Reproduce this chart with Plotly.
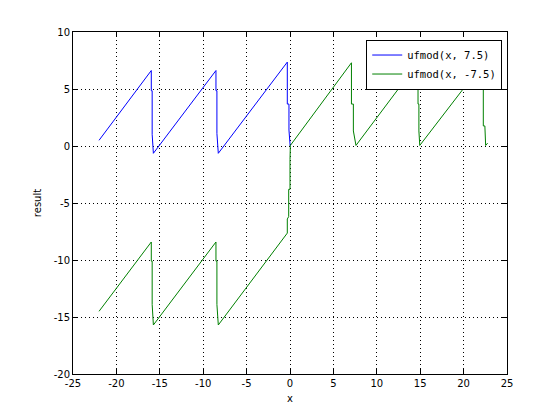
import plotly.graph_objects as go

# ufmod(x, 7.5) - vertices
blue_x = [-22.0, -15.98, -15.98, -15.88, -15.88, -15.74,
          -8.53, -8.53, -8.42, -8.42, -8.26,
          -0.31, -0.31, -0.12, -0.12, 0.02]
blue_y = [0.5, 6.62, 4.85, 4.85, 1.02, -0.64,
          6.62, 4.85, 4.85, 1.1, -0.64,
          7.36, 3.68, 3.68, 1.4, 0.0]

# ufmod(x, -7.5)
green_x = [-22.0, -15.98, -15.98, -15.88, -15.88, -15.74,
           -8.53, -8.53, -8.42, -8.42, -8.26,
           -0.31, -0.31, -0.15, -0.15, 0.0, 0.0, 0.04,
           7.08, 7.08, 7.3, 7.3, 7.6,
           14.75, 14.75, 14.85, 14.85, 14.95,
           22.27, 22.27, 22.45, 22.54, 22.77]
green_y = [-14.5, -8.42, -10.1, -10.1, -13.9, -15.7,
           -8.42, -10.1, -10.1, -13.9, -15.7,
           -7.64, -6.4, -6.2, -3.8, -3.8, -1.2, 0.05,
           7.3, 3.68, 3.68, 1.32, 0.05,
           7.3, 3.68, 3.68, 1.32, 0.05,
           7.3, 1.76, 1.76, 0.05, 0.25]

x_ticks = [-25, -20, -15, -10, -5, 0, 5, 10, 15, 20, 25]
y_ticks = [-20, -15, -10, -5, 0, 5, 10]

fig = go.Figure()
fig.add_trace(go.Scatter(x=blue_x, y=blue_y, mode="lines", name="ufmod(x, 7.5)",
                         line=dict(color="rgb(0,0,255)", width=1)))
fig.add_trace(go.Scatter(x=green_x, y=green_y, mode="lines", name="ufmod(x, -7.5)",
                         line=dict(color="rgb(0,128,0)", width=1)))

axis_common = dict(
    showline=True, linecolor="black", linewidth=1, mirror="ticks",
    ticks="inside", ticklen=5, tickcolor="black", tickwidth=1,
    showgrid=True, gridcolor="black", gridwidth=1, griddash="1px,3px",
    zeroline=False, tickfont=dict(family="DejaVu Sans", size=10, color="black"),
)

fig.update_xaxes(range=[-25, 25], tickvals=x_ticks, ticktext=[str(v) for v in x_ticks],
                 title=dict(text="x", font=dict(family="DejaVu Sans", size=10, color="black"), standoff=6),
                 **axis_common)
fig.update_yaxes(range=[-20, 10], tickvals=y_ticks, ticktext=[str(v) for v in y_ticks],
                 title=dict(text="result", font=dict(family="DejaVu Sans", size=10, color="black"), standoff=10),
                 **axis_common)

fig.update_layout(
    width=560, height=420,
    margin=dict(l=65, r=61, t=24, b=54, pad=0),
    paper_bgcolor="white", plot_bgcolor="white",
    showlegend=True,
    legend=dict(x=0.989, y=0.978, xanchor="right", yanchor="top",
                bgcolor="white", bordercolor="black", borderwidth=1,
                font=dict(family="DejaVu Sans Mono", size=10.5, color="black"),
                tracegroupgap=0, itemwidth=30),
)

fig.write_html("out.html")
